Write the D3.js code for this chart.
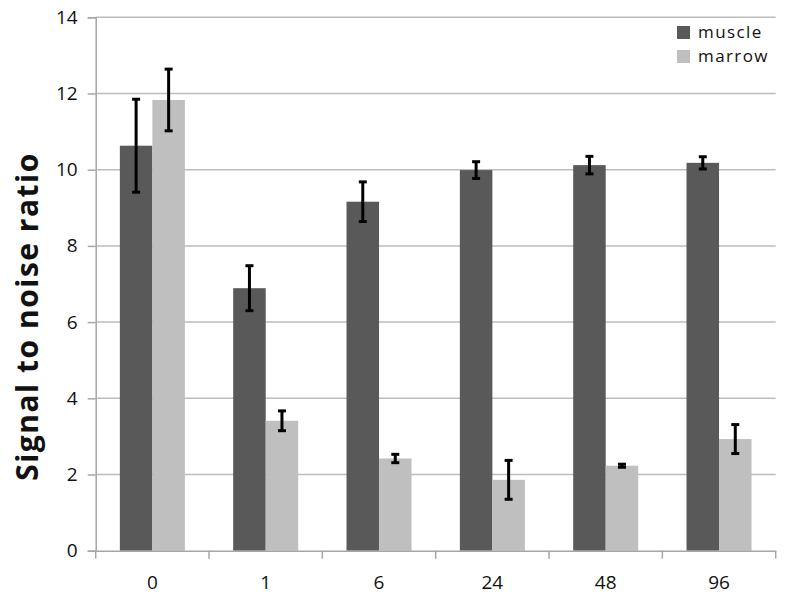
<!DOCTYPE html>
<html>
<head>
<meta charset="utf-8">
<script src="https://cdn.jsdelivr.net/npm/d3@7"></script>
<style>
  body { margin: 0; background: #fff; }
  text { font-family: "Open Sans", sans-serif; fill: #111; }
</style>
</head>
<body>
<div id="chart"></div>
<script>
const categories = ['0', '1', '6', '24', '48', '96'];
const seriesNames = ['muscle', 'marrow'];
const muscle = [10.63, 6.89, 9.16, 9.99, 10.12, 10.18];
const muscleErr = [1.22, 0.59, 0.52, 0.22, 0.23, 0.16];
const marrow = [11.83, 3.41, 2.42, 1.86, 2.23, 2.93];
const marrowErr = [0.81, 0.26, 0.11, 0.51, 0.04, 0.38];
const yTicks = [0, 2, 4, 6, 8, 10, 12, 14];

const width = 786, height = 600;
const margin = {top: 17.3, right: 10.3, bottom: 49.3, left: 95.7};
const svg = d3.select('#chart').append('svg')
  .attr('width', width)
  .attr('height', height);

const color = d3.scaleOrdinal().domain(seriesNames).range(['#595959', '#bfbfbf']);

const x = d3.scaleBand().domain(categories)
  .range([margin.left, width - margin.right])
  .paddingInner(0).paddingOuter(0);
const x1 = d3.scaleBand().domain(seriesNames)
  .range([0, x.bandwidth()])
  .paddingInner(0).paddingOuter(0.743);
const y = d3.scaleLinear().domain([0, 14]).range([height - margin.bottom, margin.top]);

// gridlines
svg.append('g')
  .selectAll('line')
  .data(yTicks.slice(1))
  .join('line')
    .attr('x1', margin.left)
    .attr('x2', width - margin.right)
    .attr('y1', d => y(d))
    .attr('y2', d => y(d))
    .attr('stroke', '#bdbdbd')
    .attr('stroke-width', 1.5);

// y axis
const yAxis = svg.append('g')
  .attr('transform', `translate(${margin.left},0)`)
  .call(d3.axisLeft(y).tickValues(yTicks).tickSize(8).tickPadding(10));
yAxis.select('.domain').attr('stroke', '#a6a6a6').attr('stroke-width', 1.5);
yAxis.selectAll('.tick line').attr('stroke', '#a6a6a6').attr('stroke-width', 1.5);
yAxis.selectAll('.tick text').style('font-size', '19px').attr('fill', '#111');

// bars
const rows = categories.map((c, i) => ({
  cat: c,
  vals: [
    {key: 'muscle', v: muscle[i], e: muscleErr[i]},
    {key: 'marrow', v: marrow[i], e: marrowErr[i]}
  ]
}));

const groups = svg.append('g')
  .selectAll('g')
  .data(rows)
  .join('g')
    .attr('transform', d => `translate(${x(d.cat)},0)`);

groups.selectAll('rect')
  .data(d => d.vals)
  .join('rect')
    .attr('x', d => x1(d.key))
    .attr('width', x1.bandwidth())
    .attr('y', d => y(d.v))
    .attr('height', d => y(0) - y(d.v))
    .attr('fill', d => color(d.key));

// error bars
const err = groups.selectAll('g.err')
  .data(d => d.vals)
  .join('g')
    .attr('class', 'err')
    .attr('stroke', '#000')
    .attr('stroke-width', 3);
err.append('line')
  .attr('x1', d => x1(d.key) + x1.bandwidth() / 2)
  .attr('x2', d => x1(d.key) + x1.bandwidth() / 2)
  .attr('y1', d => y(d.v + d.e))
  .attr('y2', d => y(d.v - d.e));
err.append('line')
  .attr('x1', d => x1(d.key) + x1.bandwidth() / 2 - 4)
  .attr('x2', d => x1(d.key) + x1.bandwidth() / 2 + 4)
  .attr('y1', d => y(d.v + d.e))
  .attr('y2', d => y(d.v + d.e));
err.append('line')
  .attr('x1', d => x1(d.key) + x1.bandwidth() / 2 - 4)
  .attr('x2', d => x1(d.key) + x1.bandwidth() / 2 + 4)
  .attr('y1', d => y(d.v - d.e))
  .attr('y2', d => y(d.v - d.e));

// x axis
const xAxis = svg.append('g')
  .attr('transform', `translate(0,${y(0)})`)
  .call(d3.axisBottom(x).tickSize(0).tickPadding(25));
xAxis.select('.domain').attr('stroke', '#a6a6a6').attr('stroke-width', 1.5);
xAxis.selectAll('.tick text').style('font-size', '19px').attr('fill', '#111');
xAxis.append('g')
  .selectAll('line')
  .data(categories)
  .join('line')
    .attr('x1', d => x(d) + x.bandwidth())
    .attr('x2', d => x(d) + x.bandwidth())
    .attr('y1', 0)
    .attr('y2', 8)
    .attr('stroke', '#a6a6a6')
    .attr('stroke-width', 1.5);
xAxis.append('line')
  .attr('x1', margin.left).attr('x2', margin.left)
  .attr('y1', 0).attr('y2', 8)
  .attr('stroke', '#a6a6a6').attr('stroke-width', 1.5);

// y axis title
svg.append('text')
  .attr('transform', 'translate(38,316.5) rotate(-90)')
  .attr('text-anchor', 'middle')
  .style('font-size', '30px')
  .style('font-weight', 'bold')
  .style('letter-spacing', '1.5px')
  .text('Signal to noise ratio');

// legend
const legend = svg.append('g')
  .attr('transform', 'translate(677,26)');
seriesNames.forEach((s, i) => {
  const item = legend.append('g')
    .attr('transform', `translate(0,${i * 24})`);
  item.append('rect')
    .attr('width', 13)
    .attr('height', 13)
    .attr('fill', color(s));
  item.append('text')
    .attr('x', 21)
    .attr('y', 12)
    .style('font-size', '17px')
    .style('letter-spacing', '1.4px')
    .text(s);
});
</script>
</body>
</html>
